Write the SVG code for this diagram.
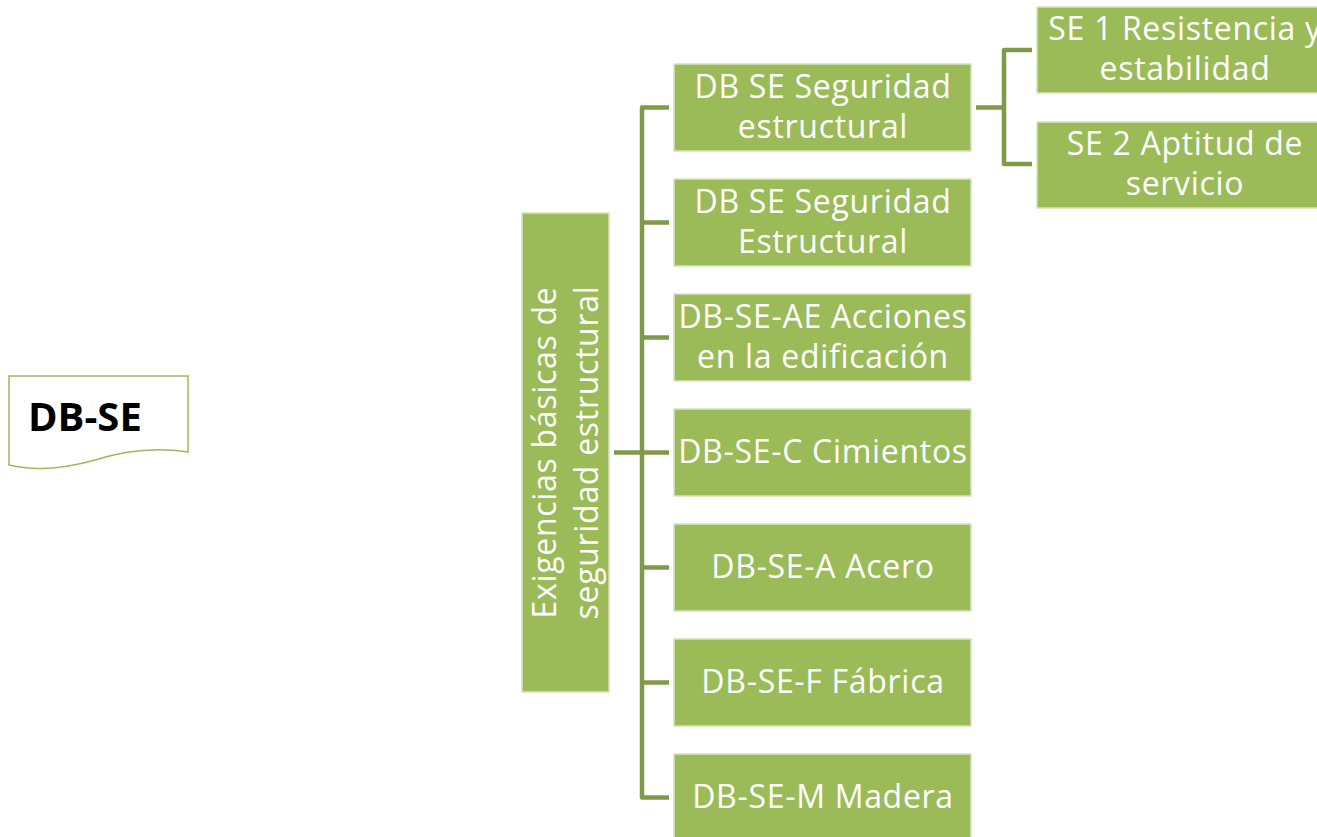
<svg xmlns="http://www.w3.org/2000/svg" width="1317" height="837" viewBox="0 0 1317 837">
<style>
.box{fill:#9BBB59;stroke:#D7E4BD;stroke-width:1.5}
.t{font-family:"Open Sans","Liberation Sans",sans-serif;font-size:32px;letter-spacing:0.7px;fill:#ffffff;text-anchor:middle}
.c{fill:none;stroke:#7F9A48;stroke-width:4.5;stroke-linejoin:round}
</style>
<rect width="1317" height="837" fill="#ffffff"/>
<g id="dbse">
<path d="M9,376 H188 V452 C150,446 120,452 95,460 C60,470 30,470 9,465 Z" fill="#ffffff" stroke="#9BBB59" stroke-width="1.5"/>
<text x="28" y="431" font-family="'Open Sans','Liberation Sans',sans-serif" font-size="40" font-weight="bold" fill="#000000">DB-SE</text>
</g>
<g id="connectors">
<path class="c" d="M614,452.5 H642"/>
<path class="c" d="M669,107.5 H642 V797.5 H669"/>
<path class="c" d="M642,222.5 H669 M642,337.5 H669 M642,452.5 H669 M642,567.5 H669 M642,682.5 H669"/>
<path class="c" d="M976,107.5 H1004"/>
<path class="c" d="M1032,50 H1004 V164 H1032"/>
</g>
<g id="root">
<rect class="box" x="522" y="213" width="87" height="479"/>
<text class="t" transform="translate(565,452.5) rotate(-90)"><tspan x="0" y="-9">Exigencias básicas de</tspan><tspan x="0" y="33">seguridad estructural</tspan></text>
</g>
<g id="n1"><rect class="box" x="674" y="64" width="297" height="87"/><text class="t" x="823" y="98">DB SE Seguridad<tspan x="823" y="138">estructural</tspan></text></g>
<g id="n2"><rect class="box" x="674" y="179" width="297" height="87"/><text class="t" x="823" y="213">DB SE Seguridad<tspan x="823" y="253">Estructural</tspan></text></g>
<g id="n3"><rect class="box" x="674" y="294" width="297" height="87"/><text class="t" x="823" y="328">DB-SE-AE Acciones<tspan x="823" y="368">en la edificación</tspan></text></g>
<g id="n4"><rect class="box" x="674" y="409" width="297" height="87"/><text class="t" x="823" y="463">DB-SE-C Cimientos</text></g>
<g id="n5"><rect class="box" x="674" y="524" width="297" height="87"/><text class="t" x="823" y="578">DB-SE-A Acero</text></g>
<g id="n6"><rect class="box" x="674" y="639" width="297" height="87"/><text class="t" x="823" y="693">DB-SE-F Fábrica</text></g>
<g id="n7"><rect class="box" x="674" y="754" width="297" height="87"/><text class="t" x="823" y="808">DB-SE-M Madera</text></g>
<g id="s1"><rect class="box" x="1037" y="7" width="297" height="86"/><text class="t" x="1185" y="40">SE 1 Resistencia y<tspan x="1185" y="80">estabilidad</tspan></text></g>
<g id="s2"><rect class="box" x="1037" y="122" width="297" height="86"/><text class="t" x="1185" y="155">SE 2 Aptitud de<tspan x="1185" y="195">servicio</tspan></text></g>
</svg>
